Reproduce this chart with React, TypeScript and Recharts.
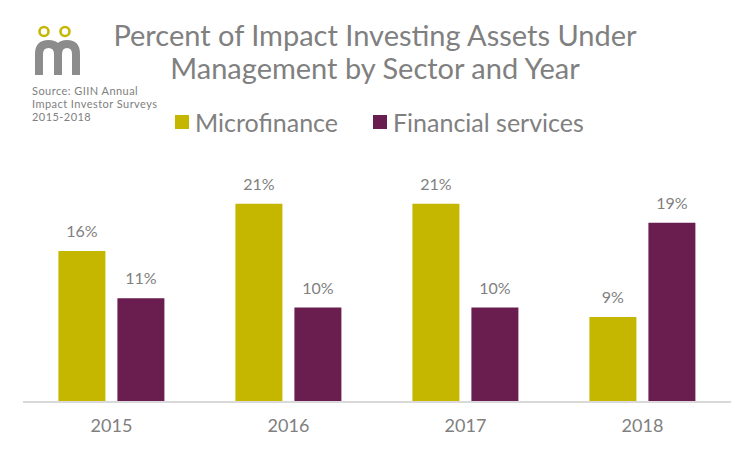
import React from 'react'
import { BarChart, Bar, XAxis, YAxis, LabelList } from 'recharts'

// ─── Data ─────────────────────────────────────────────────────────────────────

const YEARS = ['2015', '2016', '2017', '2018']
const MICROFINANCE = [16, 21, 21, 9]
const FINANCIAL_SERVICES = [11, 10, 10, 19]

const COLORS = {
  micro: '#C5B700',
  fin: '#6A1E4F',
  text: '#808080',
  axis: '#D9D9D9',
}

const FONT = 'Lato, "Open Sans", sans-serif'

const data = YEARS.map((year, i) => ({
  year,
  micro: MICROFINANCE[i],
  fin: FINANCIAL_SERVICES[i],
}))

const pct = (v: number) => `${v}%`

// ─── Logo ─────────────────────────────────────────────────────────────────────

function Logo() {
  return (
    <svg width={100} height={80} style={{ position: 'absolute', left: 0, top: 0 }}>
      <circle cx={44} cy={31.5} r={4.5} fill="none" stroke={COLORS.micro} strokeWidth={2.6} />
      <circle cx={65} cy={31.5} r={4.5} fill="none" stroke={COLORS.micro} strokeWidth={2.6} />
      <path
        d="M39 75 V54 Q39 44 48.5 44 Q58 44 58 54 V75 M58 54 Q58 44 67 44 Q76 44 76 54 V75"
        fill="none"
        stroke="#8C8C8C"
        strokeWidth={8}
      />
    </svg>
  )
}

// ─── Legend ───────────────────────────────────────────────────────────────────

function ChartLegend() {
  const items = [
    { label: 'Microfinance', color: COLORS.micro, left: 175 },
    { label: 'Financial services', color: COLORS.fin, left: 373 },
  ]
  return (
    <>
      {items.map((it) => (
        <div
          key={it.label}
          style={{
            position: 'absolute',
            left: it.left,
            top: 106,
            display: 'flex',
            alignItems: 'center',
            gap: 6,
            fontFamily: FONT,
            fontSize: 25,
            color: COLORS.text,
            lineHeight: '32px',
          }}
        >
          <span style={{ width: 14, height: 14, background: it.color, display: 'inline-block' }} />
          <span>{it.label}</span>
        </div>
      ))}
    </>
  )
}

// ─── App ──────────────────────────────────────────────────────────────────────

export default function App() {
  return (
    <div
      style={{
        position: 'absolute',
        left: 0,
        top: 0,
        width: 750,
        height: 450,
        background: '#fff',
        overflow: 'hidden',
      }}
    >
      <Logo />
      <div
        style={{
          position: 'absolute',
          left: 32,
          top: 84,
          fontFamily: FONT,
          fontSize: 11,
          lineHeight: '13.2px',
          color: COLORS.text,
          letterSpacing: 0.45,
        }}
      >
        Source: GIIN Annual
        <br />
        Impact Investor Surveys
        <br />
        2015-2018
      </div>
      <div
        style={{
          position: 'absolute',
          left: 0,
          top: 18,
          width: 750,
          textAlign: 'center',
          fontFamily: FONT,
          fontSize: 29,
          lineHeight: '33px',
          color: COLORS.text,
        }}
      >
        Percent of Impact Investing Assets Under
        <br />
        Management by Sector and Year
      </div>
      <ChartLegend />

      <div style={{ position: 'absolute', left: 0, top: 0 }}>
        <BarChart
          width={750}
          height={450}
          data={data}
          margin={{ top: 166, right: 19, left: 23, bottom: 16 }}
          barCategoryGap="20%"
          barGap={12}
        >
          <XAxis
            dataKey="year"
            tickLine={false}
            axisLine={{ stroke: COLORS.axis, strokeWidth: 2 }}
            tick={{ fill: COLORS.text, fontSize: 18, fontFamily: FONT }}
            tickMargin={11}
            height={32}
          />
          <YAxis hide domain={[0, 25]} />
          <Bar dataKey="micro" fill={COLORS.micro} isAnimationActive={false}>
            <LabelList
              dataKey="micro"
              position="top"
              offset={14}
              formatter={pct}
              style={{ fill: COLORS.text, fontSize: 16, fontFamily: FONT }}
            />
          </Bar>
          <Bar dataKey="fin" fill={COLORS.fin} isAnimationActive={false}>
            <LabelList
              dataKey="fin"
              position="top"
              offset={14}
              formatter={pct}
              style={{ fill: COLORS.text, fontSize: 16, fontFamily: FONT }}
            />
          </Bar>
        </BarChart>
      </div>
    </div>
  )
}
